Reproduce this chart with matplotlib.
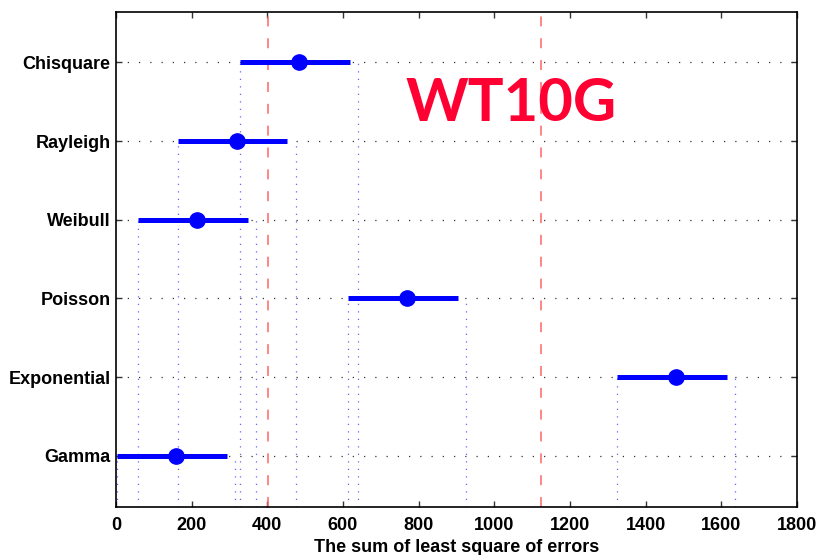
import matplotlib
matplotlib.use('Agg')
from matplotlib import pyplot as plt

# groups, top to bottom
groups = ['Chisquare', 'Rayleigh', 'Weibull', 'Poisson', 'Exponential', 'Gamma']
means = [484, 320, 214, 769, 1480, 159]
halfwidth = [156, 155, 156, 156, 157, 156]
reflines = [402, 1123]  # red dashed lines
xticks = [0, 200, 400, 600, 800, 1000, 1200, 1400, 1600, 1800]

plt.rcParams['font.family'] = ['Liberation Sans', 'DejaVu Sans']

fig = plt.figure(figsize=(8.19, 5.55), dpi=100)
ax = fig.add_axes([0.1416, 0.0865, 0.8315, 0.8919])

n = len(groups)
ypos = list(range(n, 0, -1))  # Chisquare at top
ylo, yhi = 0.35, 6.64

# horizontal dotted grid at each group
for y in ypos:
    ax.plot([0, 1800], [y, y], color='0.2', lw=0.9, ls=(0, (1, 8)), zorder=1)

# vertical dotted lines from each interval end down to the bottom
for y, m, h in zip(ypos, means, halfwidth):
    for x in (m - h, m + h):
        ax.plot([x, x], [ylo, y], color='#3d3dff', lw=0.9, ls=(0, (1, 5)), alpha=0.8, zorder=1)

# red reference lines
for x in reflines:
    ax.axvline(x, color='#ff6464', lw=1.1, ls=(0, (6.5, 7.8)), zorder=2)

# intervals with means (the drawn bar stops a bit short of the right end, like the original)
for y, m, h in zip(ypos, means, halfwidth):
    ax.plot([m - h, m + h - 22], [y, y], color='blue', lw=3.6, solid_capstyle='butt', zorder=3)
    ax.plot(m, y, 'o', color='blue', ms=11, mfc='blue', mec='blue', zorder=4)

ax.text(1044, 5.47, 'WT10G', color='#ff0033', fontsize=43, family='Lato',
        fontweight='bold', ha='center', va='center', zorder=5)

ax.set_xlim(0, 1800)
ax.set_ylim(ylo, yhi)
ax.set_xticks(xticks)
ax.set_yticks(ypos)
ax.set_yticklabels(groups)
ax.tick_params(direction='in', length=4, width=1, top=True, right=True,
               labelsize=13, color='0.2', pad=4)
ax.tick_params(axis='x', pad=7)
for lab in ax.get_xticklabels() + ax.get_yticklabels():
    lab.set_fontweight('bold')
for s in ax.spines.values():
    s.set_linewidth(1.2)
ax.set_xlabel('The sum of least square of errors', fontsize=13, fontweight='bold', labelpad=4)

fig.savefig('out.png', dpi=100)
